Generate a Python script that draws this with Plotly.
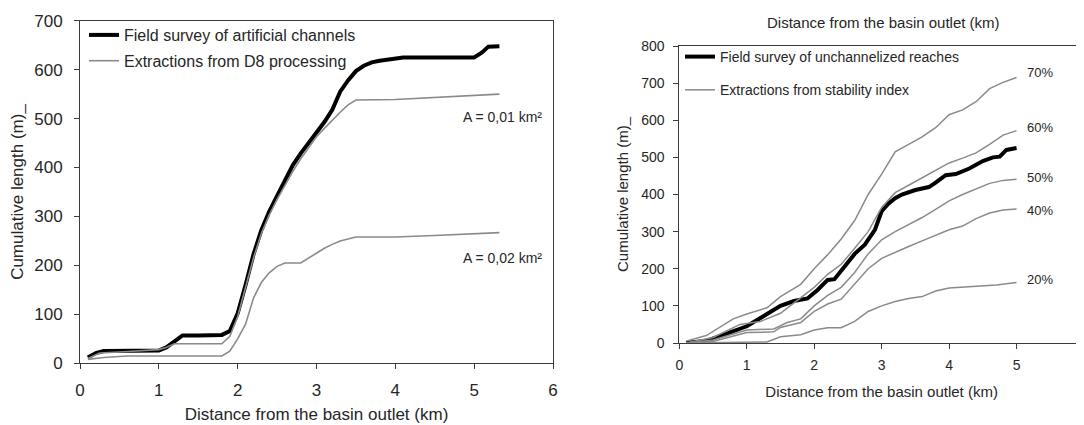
import plotly.graph_objects as go

# ---------------- Left chart data ----------------
field_art_x = [0.1, 0.2, 0.3, 0.6, 1.0, 1.1, 1.3, 1.5, 1.8, 1.9, 2.0, 2.1, 2.2, 2.3, 2.4, 2.5, 2.6, 2.7, 2.8,
               2.9, 3.0, 3.1, 3.2, 3.3, 3.4, 3.5, 3.6, 3.7, 3.8, 3.9, 4.0, 4.1, 5.0, 5.1, 5.18, 5.32]
field_art_y = [12, 21, 25, 25, 26, 33, 57, 57, 58, 66, 102, 160, 222, 272, 310, 342, 375, 405, 429,
               450, 470, 493, 518, 555, 578, 597, 608, 615, 618, 620, 623, 625, 625, 635, 647, 648]

d8_001_x = [0.1, 0.25, 0.5, 1.0, 1.1, 1.2, 1.8, 1.9, 2.0, 2.1, 2.2, 2.3, 2.4, 2.5, 2.6, 2.7, 2.8, 2.9,
            3.0, 3.1, 3.2, 3.3, 3.4, 3.5, 4.0, 4.5, 5.32]
d8_001_y = [10, 21, 23, 28, 33, 40, 40, 55, 95, 155, 215, 265, 303, 335, 364, 392, 418, 440,
            463, 480, 497, 513, 528, 538, 539, 543, 550]

d8_002_x = [0.1, 0.3, 0.6, 1.8, 1.9, 2.0, 2.1, 2.2, 2.3, 2.4, 2.5, 2.6, 2.8, 2.9, 3.0, 3.1, 3.2, 3.3,
            3.5, 4.0, 4.5, 5.32]
d8_002_y = [8, 12, 15, 15, 25, 50, 80, 133, 165, 185, 198, 205, 205, 215, 225, 235, 243, 250,
            258, 258, 261, 267]

# ---------------- Right chart data ----------------
field_unch_x = [0.1, 0.4, 0.7, 1.0, 1.3, 1.5, 1.7, 1.9, 2.05, 2.2, 2.3, 2.45, 2.6, 2.75, 2.9, 3.0, 3.1,
                3.2, 3.3, 3.5, 3.7, 3.8, 3.95, 4.1, 4.3, 4.5, 4.65, 4.75, 4.85, 5.0]
field_unch_y = [0, 6, 25, 45, 78, 100, 113, 120, 143, 170, 172, 205, 240, 265, 305, 355, 375,
                390, 400, 412, 420, 432, 452, 455, 470, 490, 500, 502, 520, 525]

si70_x = [0.1, 0.4, 0.8, 1.0, 1.3, 1.5, 1.8, 2.0, 2.2, 2.4, 2.6, 2.8, 3.0, 3.2, 3.4, 3.6, 3.8, 4.0,
          4.2, 4.4, 4.6, 4.8, 5.0]
si70_y = [5, 20, 65, 78, 95, 125, 158, 200, 238, 280, 330, 400, 455, 515, 535, 555, 580, 615,
          628, 650, 685, 702, 715]

si60_x = [0.1, 0.5, 0.9, 1.2, 1.5, 1.8, 2.0, 2.2, 2.4, 2.6, 2.8, 3.0, 3.2, 3.4, 3.6, 3.8, 4.0, 4.2,
          4.4, 4.6, 4.8, 5.0]
si60_y = [0, 15, 50, 58, 80, 122, 150, 185, 212, 255, 300, 365, 405, 425, 445, 465, 485, 498,
          512, 535, 560, 572]

si50_x = [0.1, 0.5, 1.0, 1.4, 1.6, 1.8, 2.0, 2.2, 2.4, 2.6, 2.8, 3.0, 3.2, 3.4, 3.6, 3.8, 4.0, 4.2,
          4.4, 4.6, 4.8, 5.0]
si50_y = [0, 8, 35, 38, 55, 65, 100, 128, 150, 190, 240, 278, 300, 318, 338, 360, 383, 400,
          415, 430, 438, 441]

si40_x = [0.1, 0.5, 1.0, 1.4, 1.5, 1.8, 2.0, 2.2, 2.4, 2.6, 2.8, 3.0, 3.2, 3.4, 3.6, 3.8, 4.0, 4.2,
          4.4, 4.6, 4.8, 5.0]
si40_y = [0, 4, 28, 30, 42, 55, 85, 105, 118, 160, 200, 228, 245, 260, 275, 290, 305, 315,
          335, 350, 358, 361]

si20_x = [0.1, 1.3, 1.5, 1.8, 2.0, 2.2, 2.4, 2.6, 2.8, 3.0, 3.2, 3.4, 3.6, 3.8, 4.0, 4.2, 4.4, 4.7, 5.0]
si20_y = [0, 3, 17, 22, 35, 41, 41, 58, 85, 100, 112, 120, 125, 140, 148, 150, 152, 156, 163]

left_notes = ["A = 0,01 km²", "A = 0,02 km²"]
left_notes_x = [5.36, 5.36]
left_notes_y = [504, 216]

pct_labels = ["70%", "60%", "50%", "40%", "20%"]
pct_x = [5.35, 5.35, 5.35, 5.35, 5.35]
pct_y = [728, 580, 445, 356, 170]

FONT = "Liberation Sans, Arial, sans-serif"
GRAY = "#8a8a8a"
AX = "#3a3a3a"
TXT = "#262626"

# page offset of the figure (default body margin of the HTML page)
OFF = 8
W, H = 1084 - OFF, 425


def px(sx):
    return (sx - OFF) / W


def py(sy):
    return 1 - (sy - OFF) / H


fig = go.Figure()

# Left chart traces
fig.add_trace(go.Scatter(x=field_art_x, y=field_art_y, mode="lines",
                         line=dict(color="black", width=4),
                         name="Field survey of artificial channels",
                         legend="legend", legendgroup="a", xaxis="x", yaxis="y"))
fig.add_trace(go.Scatter(x=d8_001_x, y=d8_001_y, mode="lines",
                         line=dict(color=GRAY, width=1.6),
                         name="Extractions from D8 processing",
                         legend="legend", legendgroup="b", xaxis="x", yaxis="y"))
fig.add_trace(go.Scatter(x=d8_002_x, y=d8_002_y, mode="lines",
                         line=dict(color=GRAY, width=1.6), showlegend=False,
                         legendgroup="b", xaxis="x", yaxis="y"))

# Right chart traces
fig.add_trace(go.Scatter(x=field_unch_x, y=field_unch_y, mode="lines",
                         line=dict(color="black", width=4),
                         name="Field survey of unchannelized reaches",
                         legend="legend2", legendgroup="c", xaxis="x2", yaxis="y2"))
first = True
for xs, ys in [(si70_x, si70_y), (si60_x, si60_y), (si50_x, si50_y), (si40_x, si40_y), (si20_x, si20_y)]:
    fig.add_trace(go.Scatter(x=xs, y=ys, mode="lines",
                             line=dict(color=GRAY, width=1.5),
                             name="Extractions from stability index",
                             showlegend=first, legend="legend2", legendgroup="d",
                             xaxis="x2", yaxis="y2"))
    first = False

annotations = []
for t, x, y in zip(left_notes, left_notes_x, left_notes_y):
    annotations.append(dict(text=t, x=x, y=y, xref="x", yref="y", showarrow=False,
                            xanchor="center", yanchor="middle",
                            font=dict(family=FONT, size=14, color=TXT)))
for t, x, y in zip(pct_labels, pct_x, pct_y):
    annotations.append(dict(text=t, x=x, y=y, xref="x2", yref="y2", showarrow=False,
                            xanchor="center", yanchor="middle",
                            font=dict(family=FONT, size=13, color=TXT)))
# Axis title at top of the right panel (from the cropped chart above)
annotations.append(dict(text="Distance from the basin outlet (km)", x=px(883), y=py(23),
                        xref="paper", yref="paper", showarrow=False,
                        xanchor="center", yanchor="middle",
                        font=dict(family=FONT, size=15, color=TXT)))

axis_common = dict(showgrid=False, zeroline=False, showline=True, linecolor=AX, linewidth=1,
                   mirror=True, ticks="outside", ticklen=5, tickcolor=AX, tickwidth=1,
                   automargin=False)

fig.update_layout(
    width=W, height=H,
    margin=dict(l=0, r=0, t=0, b=0, autoexpand=False),
    paper_bgcolor="white", plot_bgcolor="white",
    font=dict(family=FONT, color=TXT),
    xaxis=dict(domain=[px(80), px(553)], range=[0, 6], dtick=1, anchor="y",
               tickfont=dict(size=17), ticklabelstandoff=6,
               title=dict(text="Distance from the basin outlet (km)", font=dict(size=17), standoff=9),
               **axis_common),
    yaxis=dict(domain=[py(363.3), py(20.7)], range=[0, 700], dtick=100, anchor="x",
               tickfont=dict(size=17), ticklabelstandoff=8,
               title=dict(text="Cumulative length (m)_", font=dict(size=17), standoff=8),
               **axis_common),
    xaxis2=dict(domain=[px(679.3), 1.0], range=[0, 6], dtick=1, anchor="y2",
                tickfont=dict(size=14), ticklabelstandoff=4,
                title=dict(text="Distance from the basin outlet (km)", font=dict(size=15), standoff=14),
                **axis_common),
    yaxis2=dict(domain=[py(343), py(46)], range=[0, 800], dtick=100, anchor="x2",
                tickfont=dict(size=14), ticklabelstandoff=6,
                title=dict(text="Cumulative length (m)_", font=dict(size=15), standoff=8),
                **axis_common),
    legend=dict(x=px(84), y=py(18), xanchor="left", yanchor="top",
                bgcolor="rgba(255,255,255,0)", borderwidth=0,
                font=dict(family=FONT, size=16, color=TXT), tracegroupgap=2),
    legend2=dict(x=px(680), y=py(41), xanchor="left", yanchor="top",
                 bgcolor="rgba(255,255,255,0)", borderwidth=0,
                 font=dict(family=FONT, size=14, color=TXT), tracegroupgap=12),
    annotations=annotations,
    showlegend=True,
)

fig.write_html("out.html")
